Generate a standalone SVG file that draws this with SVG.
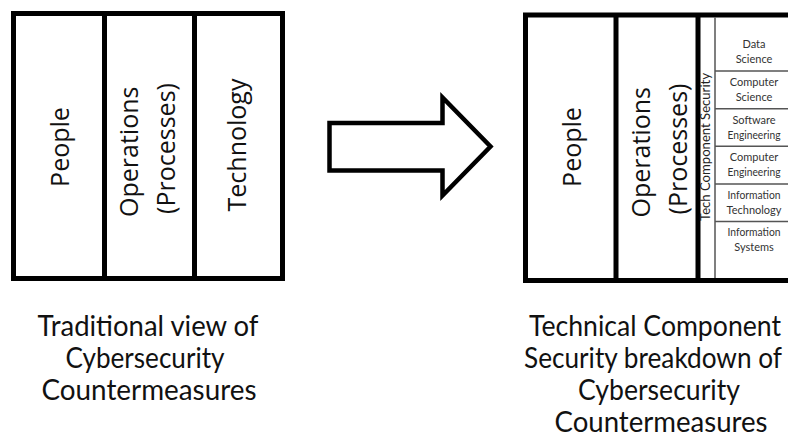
<svg xmlns="http://www.w3.org/2000/svg" width="788" height="445" viewBox="0 0 788 445">
  <style>
    .frame { fill: #fff; stroke: #000; stroke-width: 5; }
    .bar { stroke: #000; stroke-width: 5; }
    .thin { stroke: #555; stroke-width: 1.5; }
    .big { font-family: "Open Sans", "Noto Sans", sans-serif; font-size: 25px; fill: #111; text-anchor: middle; }
    .vert { font-family: Lato, "Liberation Sans", sans-serif; font-size: 14px; fill: #222; text-anchor: middle; }
    .cell { font-family: Lato, "Liberation Sans", sans-serif; font-size: 11px; fill: #333; text-anchor: middle; }
    .cap { font-family: Lato, "Liberation Sans", sans-serif; font-size: 29px; fill: #111; text-anchor: middle; }
    .arrow { fill: #fff; stroke: #000; stroke-width: 4.5; stroke-linejoin: miter; }
  </style>
  <rect width="788" height="445" fill="#fff"/>

  <!-- Traditional three-pillar view -->
  <g id="traditional-view">
    <rect class="frame" x="13.5" y="13.5" width="269" height="265"/>
    <line class="bar" x1="104.5" y1="13.5" x2="104.5" y2="278.5"/>
    <line class="bar" x1="194.5" y1="13.5" x2="194.5" y2="278.5"/>
    <g id="trad-people">
      <text class="big" transform="translate(59,147) rotate(-90)" y="10">People</text>
    </g>
    <g id="trad-operations">
      <text class="big" transform="translate(149.5,148.5) rotate(-90)">
        <tspan x="0" y="-11.5">Operations</tspan>
        <tspan x="0" y="25.5">(Processes)</tspan>
      </text>
    </g>
    <g id="trad-technology">
      <text class="big" transform="translate(238.5,145) rotate(-90)" y="7">Technology</text>
    </g>
  </g>

  <!-- Block arrow between the two views -->
  <g id="connectors">
    <polygon class="arrow" points="329.5,123 442.5,123 442.5,97.5 490.5,146.5 442.5,195.5 442.5,170.5 329.5,170.5"/>
  </g>

  <!-- Technical component breakdown view -->
  <g id="tcs-view">
    <rect class="frame" x="525.5" y="15" width="270" height="265.5"/>
    <line class="bar" x1="616" y1="15" x2="616" y2="280.5"/>
    <line class="bar" x1="698" y1="15" x2="698" y2="280.5"/>
    <line class="thin" x1="715" y1="17.5" x2="715" y2="278"/>
    <line class="thin" x1="715" y1="71.1" x2="788" y2="71.1"/>
    <line class="thin" x1="715" y1="108.7" x2="788" y2="108.7"/>
    <line class="thin" x1="715" y1="146.3" x2="788" y2="146.3"/>
    <line class="thin" x1="715" y1="183.9" x2="788" y2="183.9"/>
    <line class="thin" x1="715" y1="221.5" x2="788" y2="221.5"/>
    <g id="tcs-people">
      <text class="big" transform="translate(570.5,147) rotate(-90)" y="10">People</text>
    </g>
    <g id="tcs-operations">
      <text class="big" transform="translate(656.5,149) rotate(-90)">
        <tspan x="0" y="-6.5">Operations</tspan>
        <tspan x="0" y="30.5">(Processes)</tspan>
      </text>
    </g>
    <g id="tcs-label">
      <text class="vert" transform="translate(706,147) rotate(-90)" y="4" textLength="148" lengthAdjust="spacingAndGlyphs">Tech Component Security</text>
    </g>
    <g id="cell-data-science">
      <text class="cell" x="754" y="48.3">Data</text>
      <text class="cell" x="754" y="63.3">Science</text>
    </g>
    <g id="cell-computer-science">
      <text class="cell" x="754" y="85.9">Computer</text>
      <text class="cell" x="754" y="100.9">Science</text>
    </g>
    <g id="cell-software-engineering">
      <text class="cell" x="754" y="123.5">Software</text>
      <text class="cell" x="754" y="138.5" textLength="53" lengthAdjust="spacingAndGlyphs">Engineering</text>
    </g>
    <g id="cell-computer-engineering">
      <text class="cell" x="754" y="161.1">Computer</text>
      <text class="cell" x="754" y="176.1" textLength="53" lengthAdjust="spacingAndGlyphs">Engineering</text>
    </g>
    <g id="cell-information-technology">
      <text class="cell" x="754" y="198.7" textLength="53" lengthAdjust="spacingAndGlyphs">Information</text>
      <text class="cell" x="754" y="213.7">Technology</text>
    </g>
    <g id="cell-information-systems">
      <text class="cell" x="754" y="236.3" textLength="53" lengthAdjust="spacingAndGlyphs">Information</text>
      <text class="cell" x="754" y="251.3">Systems</text>
    </g>
  </g>

  <!-- Captions -->
  <g id="caption-traditional">
    <text class="cap" x="148" y="336" textLength="221" lengthAdjust="spacingAndGlyphs">Traditional view of</text>
    <text class="cap" x="145" y="368" textLength="159" lengthAdjust="spacingAndGlyphs">Cybersecurity</text>
    <text class="cap" x="149" y="400" textLength="215" lengthAdjust="spacingAndGlyphs">Countermeasures</text>
  </g>
  <g id="caption-tcs">
    <text class="cap" x="655" y="336" textLength="252" lengthAdjust="spacingAndGlyphs">Technical Component</text>
    <text class="cap" x="653" y="368" textLength="258" lengthAdjust="spacingAndGlyphs">Security breakdown of</text>
    <text class="cap" x="659" y="400" textLength="162" lengthAdjust="spacingAndGlyphs">Cybersecurity</text>
    <text class="cap" x="661" y="432" textLength="213" lengthAdjust="spacingAndGlyphs">Countermeasures</text>
  </g>
</svg>
